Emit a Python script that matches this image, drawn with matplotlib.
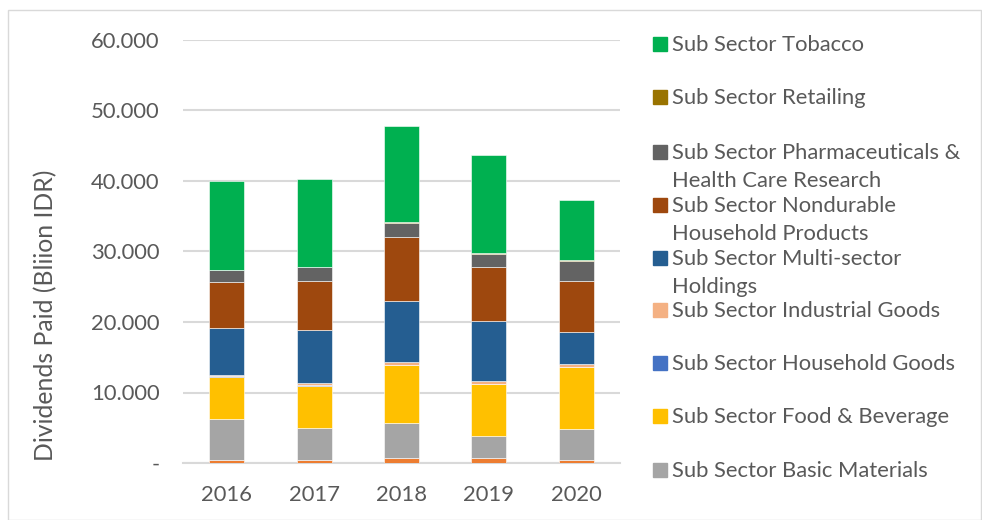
import numpy as np
import matplotlib
matplotlib.use('Agg')
import matplotlib.pyplot as plt
from matplotlib.ticker import FuncFormatter
from matplotlib.patches import Rectangle

plt.rcParams['font.family'] = ['Lato', 'DejaVu Sans']

years = ['2016', '2017', '2018', '2019', '2020']

# stacked from bottom to top (billion IDR)
other = [400, 450, 700, 750, 430]                   # bottom orange series, not shown in legend
basic_materials = [5900, 4510, 5030, 3080, 4440]
food_beverage = [5950, 6020, 8170, 7380, 8700]
household_goods = [50, 50, 50, 50, 50]
industrial_goods = [150, 270, 330, 330, 380]
multi_sector = [6750, 7620, 8660, 8610, 4640]
nondurable = [6430, 6950, 9170, 7560, 7180]
pharma = [1750, 1890, 1990, 1940, 2890]
retailing = [50, 50, 50, 50, 50]
tobacco = [12530, 12530, 13650, 13990, 8500]

series = [
    (None, other, '#ED7D31'),
    (['Sub Sector Basic Materials'], basic_materials, '#A5A5A5'),
    (['Sub Sector Food & Beverage'], food_beverage, '#FFC000'),
    (['Sub Sector Household Goods'], household_goods, '#4472C4'),
    (['Sub Sector Industrial Goods'], industrial_goods, '#F4B183'),
    (['Sub Sector Multi-sector', 'Holdings'], multi_sector, '#255E91'),
    (['Sub Sector Nondurable', 'Household Products'], nondurable, '#9E480E'),
    (['Sub Sector Pharmaceuticals &', 'Health Care Research'], pharma, '#636363'),
    (['Sub Sector Retailing'], retailing, '#997300'),
    (['Sub Sector Tobacco'], tobacco, '#00B050'),
]

text_color = '#595959'
fs = 15.8

fig = plt.figure(figsize=(9.82, 5.2), dpi=100)
ax = fig.add_axes([183 / 982, 1 - 463 / 520, 437 / 982, 423 / 520])

x = np.arange(len(years))
bottom = np.zeros(len(years))
for name, vals, color in series:
    ax.bar(x, vals, 0.4, bottom=bottom, color=color, edgecolor='white', linewidth=0.4, zorder=3)
    bottom += np.array(vals)

ax.set_xlim(-0.5, len(years) - 0.5)
ax.set_ylim(0, 60000)
ax.set_yticks(np.arange(0, 60001, 10000))


def fmt(v, pos):
    if v == 0:
        return '-'
    return f'{int(v):,}'.replace(',', '.')


ax.yaxis.set_major_formatter(FuncFormatter(fmt))
ax.set_xticks(x)
ax.set_xticklabels(years)
ax.grid(axis='y', color='#d9d9d9', linewidth=1.5, zorder=0)
for s in ['top', 'right', 'left']:
    ax.spines[s].set_visible(False)
ax.spines['bottom'].set_color('#d9d9d9')
ax.spines['bottom'].set_linewidth(1.5)
ax.tick_params(axis='both', length=0, labelsize=fs, colors=text_color)
ax.tick_params(axis='y', pad=17)
ax.tick_params(axis='x', pad=16)

fig.text(46 / 982, 1 - 315 / 520, 'Dividends Paid (Bliion IDR)', rotation=90,
         ha='center', va='center', fontsize=17.8, color=text_color)

# legend drawn by hand so every entry keeps the same slot height
entry_y = [45, 98, 153, 206, 259, 311, 364, 417, 471]
legend_items = [s for s in series[::-1] if s[0] is not None]
for yy, (lines, vals, color) in zip(entry_y, legend_items):
    fig.patches.append(Rectangle((653 / 982, 1 - (yy + 6) / 520), 14 / 982, 14 / 520,
                                 transform=fig.transFigure, color=color))
    for i, line in enumerate(lines):
        fig.text(672 / 982, 1 - (yy + i * 28) / 520, line, ha='left', va='center',
                 fontsize=fs, color=text_color)

fig.patches.append(Rectangle((8 / 982, 0), 973 / 982, 1 - 10 / 520, transform=fig.transFigure,
                             fill=False, edgecolor='#d9d9d9', linewidth=1))

fig.savefig('out.png', dpi=100, facecolor='white')
